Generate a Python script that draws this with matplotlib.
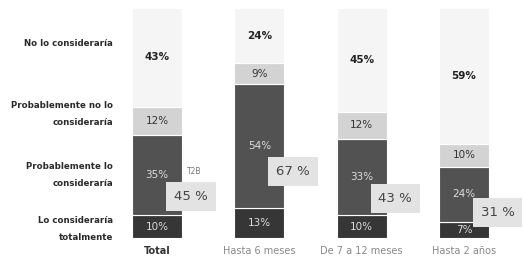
import matplotlib.pyplot as plt

categorias = ["Total", "Hasta 6 meses", "De 7 a 12 meses", "Hasta 2 años"]
totalmente = [10, 13, 10, 7]
prob_si = [35, 54, 33, 24]
prob_no = [12, 9, 12, 10]
no_lo = [43, 24, 45, 59]
top2 = [45, 67, 43, 31]

filas = ["No lo consideraría", "Probablemente no lo\nconsideraría",
         "Probablemente lo\nconsideraría", "Lo consideraría\ntotalmente"]

fig = plt.figure(figsize=(5.23, 2.65), dpi=100)
ax = fig.add_axes([106 / 523, 27 / 265, 409 / 523, 230 / 265])

x = list(range(len(categorias)))
ancho = 0.49

# columnas de fondo
ax.bar(x, [100] * len(x), width=ancho, color="#f7f7f7", zorder=0)

abajo = [0] * len(x)
capas = [
    (totalmente, "#363636", "#dddddd"),
    (prob_si, "#525252", "#dddddd"),
    (prob_no, "#d3d3d3", "#333333"),
    (no_lo, "#f5f5f5", "#222222"),
]
for valores, color, color_txt in capas:
    ax.bar(x, valores, width=ancho, bottom=abajo, color=color,
           edgecolor="white", linewidth=0.8, zorder=2)
    for i, v in enumerate(valores):
        peso = "bold" if color_txt == "#222222" else "normal"
        ax.text(i, abajo[i] + v / 2, f"{v}%", ha="center", va="center",
                fontsize=7.5, color=color_txt, fontweight=peso, zorder=3)
    abajo = [a + v for a, v in zip(abajo, valores)]

# cuadros con top 2
for i, v in enumerate(top2):
    ax.text(i + 0.33, v / 2 - 4.5, f"{v} %", ha="center", va="center",
            fontsize=9.5, color="#454545", zorder=4, clip_on=False,
            bbox=dict(boxstyle="square,pad=0.6", facecolor="#e3e3e3",
                      edgecolor="none"))
ax.text(0.36, 29, "T2B", ha="center", va="center", fontsize=5.5,
        color="#777777", zorder=4)

ax.set_xlim(-0.5, 3.5)
ax.set_ylim(0, 100)
ax.set_xticks(x)
ax.set_xticklabels(categorias, fontsize=7, color="#888888")
etiquetas = ax.get_xticklabels()
etiquetas[0].set_fontweight("bold")
etiquetas[0].set_color("#333333")
ax.tick_params(axis="x", length=0, pad=6)
ax.set_yticks([])
for lado in ax.spines.values():
    lado.set_visible(False)

ys = [44, 114, 175, 229]
for texto, y in zip(filas, ys):
    fig.text(113 / 523, 1 - y / 265, texto, ha="right", va="center",
             fontsize=6.2, fontweight="bold", color="#2a2a2a",
             linespacing=2.1)

fig.savefig("out.png", dpi=100, facecolor="white")
